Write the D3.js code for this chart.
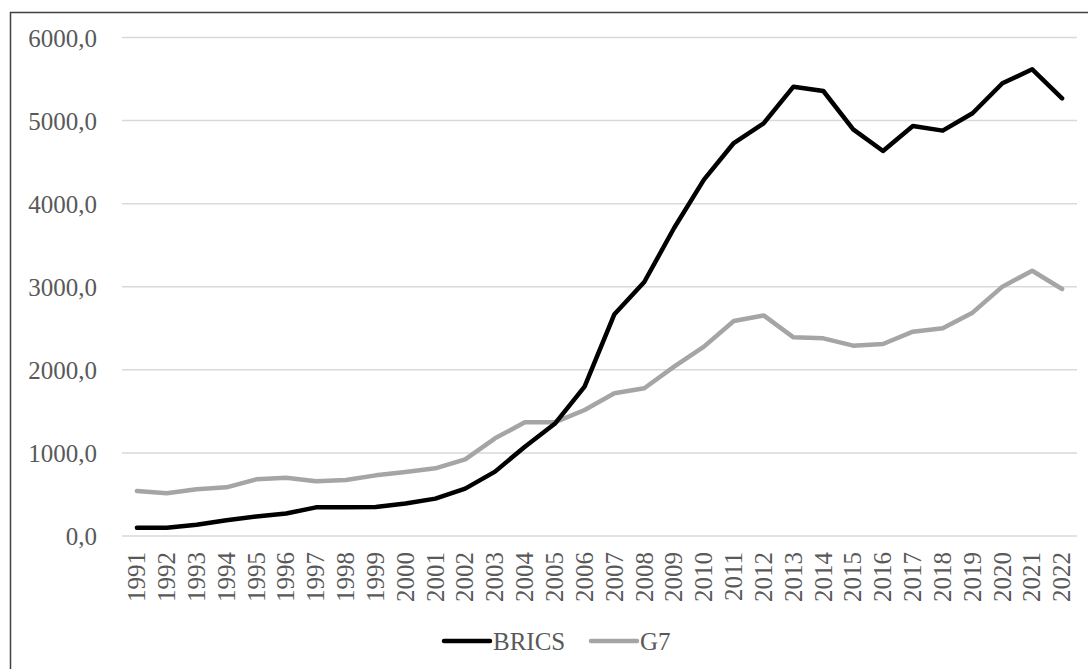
<!DOCTYPE html>
<html>
<head>
<meta charset="utf-8">
<script src="https://cdn.jsdelivr.net/npm/d3@7"></script>
<style>
  body { margin: 0; background: white; }
  svg { display: block; }
</style>
</head>
<body>
<div id="container"></div>
<script>
let w = 1088;
let h = 669;

let years = [1991, 1992, 1993, 1994, 1995, 1996, 1997, 1998, 1999, 2000,
  2001, 2002, 2003, 2004, 2005, 2006, 2007, 2008, 2009, 2010,
  2011, 2012, 2013, 2014, 2015, 2016, 2017, 2018, 2019, 2020, 2021, 2022];

let brics = [100, 100, 135, 190, 235, 270, 345, 345, 350, 392,
  450, 570, 775, 1075, 1350, 1797, 2670, 3057, 3707, 4290,
  4730, 4967, 5408, 5356, 4895, 4634, 4935, 4879, 5088, 5449, 5617, 5268];

let g7 = [541, 514, 562, 586, 682, 702, 658, 674, 730, 770,
  815, 923, 1176, 1368, 1368, 1517, 1718, 1778, 2038, 2279,
  2588, 2655, 2391, 2379, 2291, 2311, 2459, 2500, 2688, 3001, 3193, 2973];

let yTicks = [0, 1000, 2000, 3000, 4000, 5000, 6000];

let seriesNames = ["BRICS", "G7"];
let seriesColors = ["#000000", "#a5a5a5"];

let font = "'Liberation Serif', 'Times New Roman', serif";
let textColor = "#595959";

let viz = d3.select("#container")
  .append("svg")
    .attr("width", w)
    .attr("height", h)
    .style("background-color", "white")
;

// frame (only top and left edges show in the picture)
viz.append("rect")
  .attr("x", 10.5)
  .attr("y", 12.5)
  .attr("width", w + 20)
  .attr("height", h + 20)
  .style("fill", "none")
  .style("stroke", "#404040")
  .style("stroke-width", 1.5)
;

let x = d3.scaleBand()
  .domain(years)
  .range([122, 1077]);

let y = d3.scaleLinear()
  .domain([0, 6000])
  .range([536, 37.5]);

// gridlines
viz.append("g")
  .selectAll("line")
  .data(yTicks)
  .enter()
  .append("line")
    .attr("x1", 122)
    .attr("x2", 1077)
    .attr("y1", d => y(d))
    .attr("y2", d => y(d))
    .style("stroke", "#d9d9d9")
    .style("stroke-width", 1.5)
;

// y axis labels
let yAxis = d3.axisLeft(y)
  .tickValues(yTicks)
  .tickSize(0)
  .tickPadding(0)
  .tickFormat(d => d3.format(".1f")(d).replace(".", ","));

let yAxisGroup = viz.append("g")
  .attr("transform", "translate(97,0)")
  .call(yAxis);
yAxisGroup.select(".domain").remove();
yAxisGroup.selectAll("text")
  .style("font-family", font)
  .style("font-size", "25px")
  .style("fill", textColor)
  .attr("dy", "0.35em")
;

// x axis labels
let xAxis = d3.axisBottom(x).tickSize(0).tickPadding(0);
let xAxisGroup = viz.append("g")
  .attr("transform", "translate(0,546)")
  .call(xAxis);
xAxisGroup.select(".domain").remove();
xAxisGroup.selectAll("text")
  .style("font-family", font)
  .style("font-size", "25px")
  .style("fill", textColor)
  .style("text-anchor", "end")
  .attr("transform", "rotate(-90)")
  .attr("x", -6)
  .attr("y", 0)
  .attr("dy", "0.33em")
;

let line = d3.line()
  .x((d, i) => x(years[i]) + x.bandwidth() / 2)
  .y(d => y(d));

// G7 first, BRICS on top
viz.append("path")
  .datum(g7)
  .attr("d", line)
  .style("fill", "none")
  .style("stroke", seriesColors[1])
  .style("stroke-width", 4.5)
  .style("stroke-linejoin", "round")
  .style("stroke-linecap", "round")
;

viz.append("path")
  .datum(brics)
  .attr("d", line)
  .style("fill", "none")
  .style("stroke", seriesColors[0])
  .style("stroke-width", 4.5)
  .style("stroke-linejoin", "round")
  .style("stroke-linecap", "round")
;

// legend
let legendX = [444, 591];
let legend = viz.selectAll(".legend")
  .data(seriesNames)
  .enter()
  .append("g")
    .attr("class", "legend")
    .attr("transform", (d, i) => "translate(" + legendX[i] + ",641)")
;
legend.append("line")
  .attr("x1", 0)
  .attr("x2", 46)
  .attr("y1", 0)
  .attr("y2", 0)
  .style("stroke", (d, i) => seriesColors[i])
  .style("stroke-width", 4.5)
  .style("stroke-linecap", "round")
;
legend.append("text")
  .text(d => d)
  .attr("x", 49)
  .attr("y", 0)
  .attr("dy", "0.35em")
  .style("font-family", font)
  .style("font-size", "25px")
  .style("fill", textColor)
;
</script>
</body>
</html>
